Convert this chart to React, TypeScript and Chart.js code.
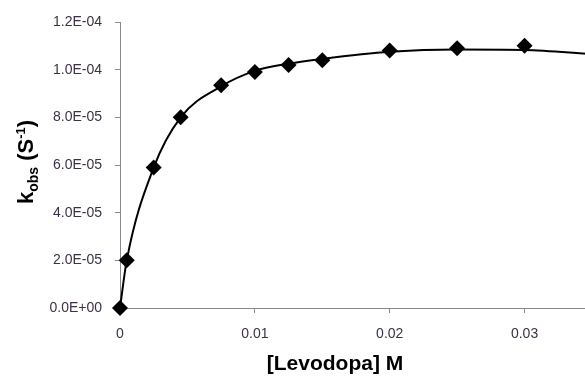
import React, { useEffect, useRef } from "react";
import { Chart, registerables } from "chart.js";

Chart.register(...registerables);

const concentrations = [0, 0.0005, 0.0025, 0.0045, 0.0075, 0.01, 0.0125, 0.015, 0.02, 0.025, 0.03];
const kobsValues = [0, 2.0e-5, 5.9e-5, 8.0e-5, 9.35e-5, 9.9e-5, 1.02e-4, 1.04e-4, 1.08e-4, 1.09e-4, 1.1e-4];

const fitX = [0, 0.0005, 0.0025, 0.0045, 0.0075, 0.01, 0.0125, 0.015, 0.02, 0.025, 0.03, 0.035];
const fitY = [0, 2.0e-5, 5.9e-5, 8.0e-5, 9.3e-5, 9.95e-5, 1.025e-4, 1.045e-4, 1.075e-4, 1.085e-4, 1.083e-4, 1.065e-4];

const xTicks = [0, 0.01, 0.02, 0.03];
const yTicks = [0, 2e-5, 4e-5, 6e-5, 8e-5, 1e-4, 1.2e-4];

const FONT = "'Liberation Sans', Arial, sans-serif";
const TICK_COLOR = "#3d3045";
const AXIS_COLOR = "#8a8a8a";

function fmtExp(v: number): string {
  const [m, e] = v.toExponential(1).split("e");
  const n = parseInt(e, 10);
  const sign = n < 0 ? "-" : "+";
  const abs = Math.abs(n).toString().padStart(2, "0");
  return `${m}E${sign}${abs}`;
}

const titlePlugin = {
  id: "customTitles",
  afterDraw(chart: any) {
    const ctx = chart.ctx as CanvasRenderingContext2D;
    ctx.save();
    ctx.fillStyle = "#000";
    ctx.font = `bold 21px ${FONT}`;
    ctx.textAlign = "center";
    ctx.textBaseline = "middle";
    ctx.fillText("[Levodopa] M", 335, 364);
    ctx.translate(25, 162);
    ctx.rotate(-Math.PI / 2);
    ctx.textAlign = "left";
    ctx.textBaseline = "alphabetic";
    const parts: { t: string; size: number; dy: number }[] = [
      { t: "k", size: 22, dy: 0 },
      { t: "obs", size: 14, dy: 5 },
      { t: " (S", size: 22, dy: 0 },
      { t: "-1", size: 13, dy: -8 },
      { t: ")", size: 22, dy: 0 },
    ];
    let total = 0;
    for (const p of parts) {
      ctx.font = `bold ${p.size}px ${FONT}`;
      total += ctx.measureText(p.t).width;
    }
    let x = -total / 2;
    const base = 8;
    for (const p of parts) {
      ctx.font = `bold ${p.size}px ${FONT}`;
      ctx.fillText(p.t, x, base + p.dy);
      x += ctx.measureText(p.t).width;
    }
    ctx.restore();
  },
};

export default function App() {
  const ref = useRef<HTMLCanvasElement | null>(null);
  useEffect(() => {
    if (!ref.current) return;
    const chart = new Chart(ref.current, {
      type: "scatter",
      data: {
        datasets: [
          {
            data: concentrations.map((c, i) => ({ x: c, y: kobsValues[i] })),
            pointStyle: "rectRot",
            pointRadius: 8,
            pointBackgroundColor: "#000",
            pointBorderColor: "#000",
            pointBorderWidth: 0,
            showLine: false,
            clip: false,
          } as any,
          {
            data: fitX.map((c, i) => ({ x: c, y: fitY[i] })),
            showLine: true,
            pointRadius: 0,
            borderColor: "#000",
            borderWidth: 2,
            cubicInterpolationMode: "monotone",
            clip: false,
          } as any,
        ],
      },
      options: {
        responsive: false,
        animation: false,
        devicePixelRatio: 1,
        layout: { padding: { left: 0, top: 22, right: 5, bottom: 0 } },
        plugins: { legend: { display: false }, tooltip: { enabled: false }, title: { display: false } },
        scales: {
          x: {
            type: "linear",
            min: 0,
            max: 0.035,
            afterFit(scale: any) {
              scale.height = 68;
            },
            afterBuildTicks(scale: any) {
              scale.ticks = xTicks.map((v) => ({ value: v }));
            },
            grid: { drawOnChartArea: false, drawTicks: true, tickLength: 5, color: AXIS_COLOR },
            border: { color: AXIS_COLOR, width: 1 },
            ticks: {
              padding: 13,
              color: TICK_COLOR,
              font: { family: FONT, size: 14 },
              callback: (v: any) => (v === 0 ? "0" : Number(v).toFixed(2)),
              maxRotation: 0,
            },
          },
          y: {
            type: "linear",
            min: 0,
            max: 1.2e-4,
            afterFit(scale: any) {
              scale.width = 120;
            },
            afterBuildTicks(scale: any) {
              scale.ticks = yTicks.map((v) => ({ value: v }));
            },
            grid: { drawOnChartArea: false, drawTicks: true, tickLength: 5, color: AXIS_COLOR },
            border: { color: AXIS_COLOR, width: 1 },
            ticks: {
              padding: 13,
              color: TICK_COLOR,
              font: { family: FONT, size: 14 },
              callback: (v: any) => fmtExp(Number(v)),
            },
          },
        },
      },
      plugins: [titlePlugin],
    } as any);
    return () => chart.destroy();
  }, []);
  return (
    <div style={{ position: "absolute", left: 0, top: 0, width: 585, height: 376, overflow: "hidden", background: "#fff" }}>
      <canvas ref={ref} width={600} height={376} style={{ width: 600, height: 376, display: "block" }} />
    </div>
  );
}
